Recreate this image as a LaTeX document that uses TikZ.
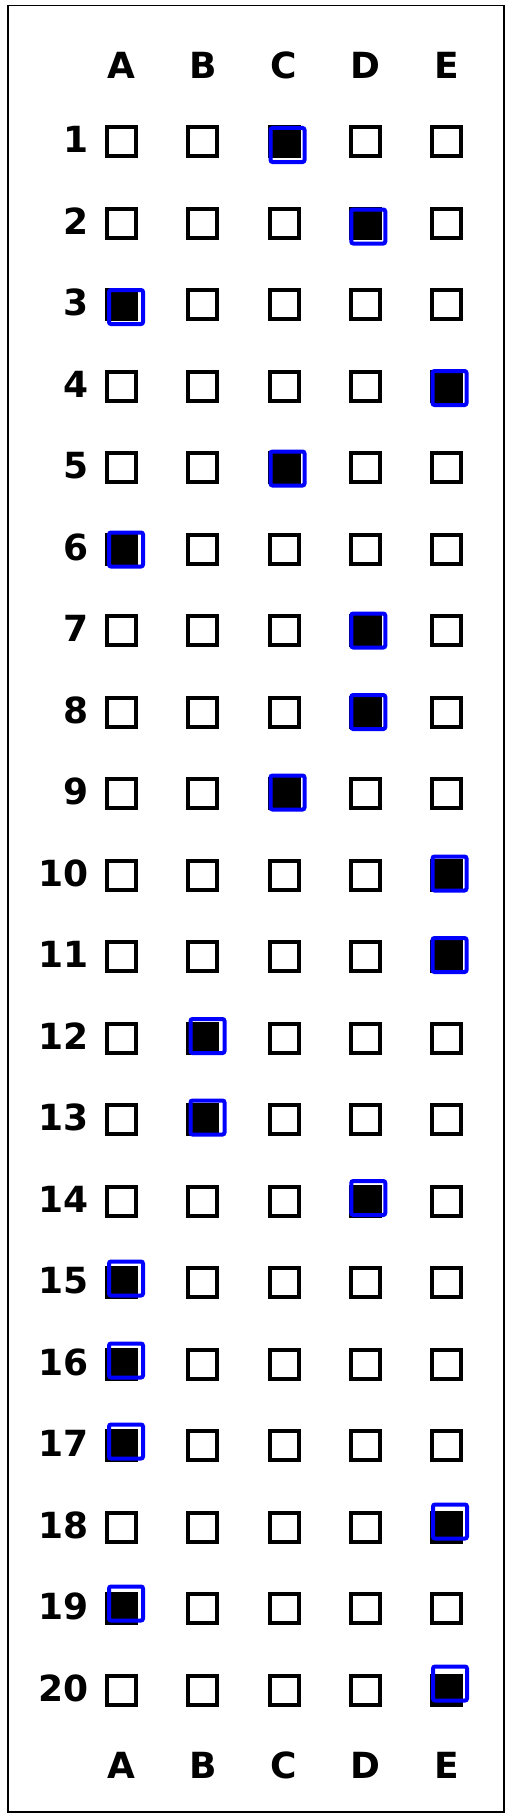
\documentclass[tikz,border=0pt]{standalone}
\usepackage{fontspec}
\setmainfont{DejaVu Sans}
\definecolor{markblue}{RGB}{0,0,255}
\begin{document}
\begin{tikzpicture}[x=1pt,y=-1pt,
  lbl/.style={font=\bfseries\fontsize{36}{40}\selectfont, inner sep=0pt},
  box/.style={draw, line width=4pt, minimum size=29pt, inner sep=0pt},
  marked/.style={box, fill=black},
  ring/.style={draw=markblue, line width=4pt, minimum size=34pt, inner sep=0pt, rounded corners=2pt}]
\useasboundingbox (0,0) rectangle (510,1817);
\fill[white] (0,0) rectangle (510,1817);
\node[draw, line width=1.5pt, minimum width=496pt, minimum height=1806pt, inner sep=0pt, anchor=north west] (frame) at (7,5) {};
\foreach \L [count=\i] in {A,B,C,D,E} {
  \node[lbl] (top\L) at ({121.5+81.25*(\i-1)},65) {\L};
  \node[lbl] (bot\L) at ({121.5+81.25*(\i-1)},1765) {\L};
}
\foreach \r in {1,...,20} {
  \pgfmathsetmacro\yc{141.5+81.5*(\r-1)}
  \node[lbl,anchor=east] (n\r) at (89,\yc-2) {\r};
  \foreach \L [count=\i] in {A,B,C,D,E} {
    \node[box] (b\r\L) at ({121.5+81.25*(\i-1)},\yc) {};
  }
}
\foreach \r/\L/\dx/\dy in {1/C/3.5/3.5, 2/D/3/3.5, 3/A/4.5/2.5, 4/E/3/2, 5/C/3.5/1,
  6/A/4.5/0.5, 7/D/3/0, 8/D/3/0, 9/C/3.5/-1, 10/E/3/-1.5, 11/E/3/-1.5,
  12/B/4.75/-2, 13/B/4.75/-2, 14/D/3/-3, 15/A/4.5/-4, 16/A/4.5/-3.5,
  17/A/4.5/-4, 18/E/3.5/-5.5, 19/A/4.5/-5, 20/E/3.5/-6.5} {
  \node[marked] (f\r) at (b\r\L.center) {};
  \node[ring] (m\r) at ([shift={(\dx,\dy)}]b\r\L.center) {};
}
\end{tikzpicture}
\end{document}
